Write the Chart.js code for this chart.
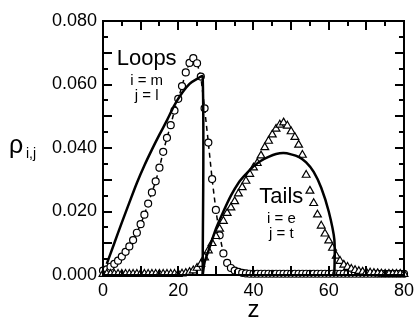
<!DOCTYPE html>
<html>
<head>
<meta charset="utf-8">
<script src="https://cdn.jsdelivr.net/npm/chart.js@4.4.0/dist/chart.umd.min.js"></script>
<style>
html, body { margin: 0; padding: 0; background: #fff; }
</style>
</head>
<body>
<canvas id="chart" width="419" height="322"></canvas>
<script>
// open circles: loops (i = m, j = l)
var loopsZ = [0,1,2,3,4,5,6,7,8,9,10,11,12,13,14,15,16,17,18,19,20,21,22,23,24,25,26,27,28,29,30,
    31,32,33,34,35,36,37,38,39,40,41,42,43,44,45,46,47,48,49,50,51,52,53,54,55,56,57,58,59,60,
    61,62,63,64,65,66,67,68,69,70,71,72,73,74,75,76,77,78,79,80];
var loopsRho = [0.0014,0.0018,0.0026,0.0035,0.0045,0.0058,0.0073,0.0090,0.0110,0.0133,0.0160,
    0.0190,0.0225,0.0260,0.0295,0.0338,0.0388,0.0432,0.0472,0.0518,0.0555,0.0595,0.0638,0.0668,
    0.0683,0.0667,0.0625,0.0525,0.0417,0.0302,0.0205,0.0125,0.0068,0.0038,0.0022,0.0014,0.0010,
    0.0007,0.0005,0.0004,0.0004,0.0004,0.0004,0.0004,0.0004,0.0004,0.0004,0.0004,0.0004,0.0004,
    0.0004,0.0004,0.0004,0.0004,0.0004,0.0004,0.0004,0.0004,0.0004,0.0004,0.0004,0.0004,0.0004,
    0.0004,0.0004,0.0004,0.0004,0.0004,0.0004,0.0004,0.0004,0.0004,0.0004,0.0004,0.0004,0.0004,
    0.0004,0.0004,0.0004,0.0004,0.0004];

// open triangles: tails (i = e, j = t)
var tailsZ = [0,1,2,3,4,5,6,7,8,9,10,11,12,13,14,15,16,17,18,19,20,21,22,23,24,25,26,27,28,29,30,
    31,32,33,34,35,36,37,38,39,40,41,42,43,44,45,46,47,48,49,50,51,52,53,54,55,56,57,58,59,60,
    61,62,63,64,65,66,67,68,69,70,71,72,73,74,75,76,77,78,79,80];
var tailsRho = [0.0003,0.0003,0.0003,0.0003,0.0003,0.0003,0.0003,0.0003,0.0003,0.0003,0.0003,
    0.0003,0.0003,0.0003,0.0003,0.0003,0.0003,0.0003,0.0003,0.0003,0.0003,0.0004,0.0006,0.0009,
    0.0014,0.0022,0.0034,0.0055,0.0077,0.0100,0.0122,0.0145,0.0170,0.0195,0.0212,0.0232,0.0256,
    0.0276,0.0296,0.0318,0.0338,0.0352,0.0376,0.0402,0.0422,0.0442,0.0460,0.0473,0.0480,0.0470,
    0.0452,0.0434,0.0410,0.0378,0.0315,0.0265,0.0226,0.0190,0.0155,0.0130,0.0108,0.0085,0.0060,
    0.0044,0.0032,0.0025,0.0019,0.0015,0.0012,0.0010,0.0008,0.0007,0.0006,0.0005,0.0004,0.0003,
    0.0003,0.0003,0.0003,0.0003,0.0003];

// solid curves
var loopsFitZ = [1,3,5,7,9,11,13,15,17,19,21,23,25,26.5,26.5];
var loopsFitRho = [0.0035,0.0100,0.0165,0.0228,0.0290,0.0345,0.0395,0.0442,0.0487,0.0535,0.0573,
    0.0602,0.0618,0.0625,0];

var tailsFitZ = [26.5,27,28,30,32,34,36,38,40,42,44,46,48,50,52,54,56,58,60,61.5,61.5];
var tailsFitRho = [0,0.0040,0.0075,0.0145,0.0200,0.0250,0.0290,0.0318,0.0342,0.0360,0.0372,
    0.0381,0.0384,0.0380,0.0372,0.0355,0.0325,0.0275,0.0200,0.0110,0];

var xLabels = [0, 20, 40, 60, 80];
var yLabels = [0, 0.02, 0.04, 0.06, 0.08];

var notes = [
    { text: 'Loops', z: 11.6, rho: 0.0661, size: 22 },
    { text: 'i = m', z: 11.6, rho: 0.0598, size: 15 },
    { text: 'j = l', z: 11.6, rho: 0.0551, size: 15 },
    { text: 'Tails', z: 47.4, rho: 0.0227, size: 22 },
    { text: 'i = e', z: 47.4, rho: 0.0164, size: 15 },
    { text: 'j = t', z: 47.4, rho: 0.0117, size: 15 }
];

var FONT = '"Liberation Sans", Arial, sans-serif';

function points(xs, ys)
{
    var out = [];
    for (var i = 0; i < xs.length; i++) {
        out.push({ x: xs[i], y: ys[i] });
    }
    return out;
}

function isMultiple(v, step)
{
    var r = v / step;
    return Math.abs(r - Math.round(r)) < 1e-6;
}

function hasLabel(v, list)
{
    for (var i = 0; i < list.length; i++) {
        if (Math.abs(v - list[i]) < 1e-9) return true;
    }
    return false;
}

// frame, inward ticks on all four sides, free text
var decorations = {
    id: 'decorations',
    afterDraw: function(chart) {
        var ctx = chart.ctx;
        var a = chart.chartArea;
        var xs = chart.scales.x;
        var ys = chart.scales.y;

        ctx.save();
        ctx.strokeStyle = '#000';
        ctx.lineWidth = 2;
        ctx.strokeRect(a.left, a.top, a.right - a.left, a.bottom - a.top);

        ctx.beginPath();
        ys.ticks.forEach(function(t) {
            var p = Math.round(ys.getPixelForValue(t.value));
            var len = isMultiple(t.value, 0.01) ? 9 : 5;
            ctx.moveTo(a.left, p); ctx.lineTo(a.left + len, p);
            ctx.moveTo(a.right, p); ctx.lineTo(a.right - len, p);
        });
        xs.ticks.forEach(function(t) {
            var p = Math.round(xs.getPixelForValue(t.value));
            var len = isMultiple(t.value, 10) ? 9 : 5;
            ctx.moveTo(p, a.bottom); ctx.lineTo(p, a.bottom - len);
            ctx.moveTo(p, a.top); ctx.lineTo(p, a.top + len);
        });
        ctx.stroke();

        ctx.fillStyle = '#000';
        ctx.textAlign = 'center';
        ctx.textBaseline = 'alphabetic';
        notes.forEach(function(n) {
            ctx.font = n.size + 'px ' + FONT;
            ctx.fillText(n.text, xs.getPixelForValue(n.z), ys.getPixelForValue(n.rho));
        });

        // y axis title, written horizontally
        ctx.textAlign = 'left';
        ctx.font = '25px ' + FONT;
        ctx.fillText('ρ', 9, 153);
        ctx.font = '14px ' + FONT;
        ctx.fillText('i,j', 26, 158);
        ctx.restore();
    }
};

var chart = new Chart(document.getElementById('chart'), {
    type: 'line',
    data: {
        datasets: [{
            label: 'Loops fit',
            data: points(loopsFitZ, loopsFitRho),
            borderColor: '#000',
            borderWidth: 2.5,
            pointRadius: 0,
            tension: 0.3,
            clip: false
        }, {
            label: 'Tails fit',
            data: points(tailsFitZ, tailsFitRho),
            borderColor: '#000',
            borderWidth: 2.5,
            pointRadius: 0,
            tension: 0.3,
            clip: false
        }, {
            label: 'Tails',
            data: points(tailsZ, tailsRho),
            showLine: false,
            pointStyle: 'triangle',
            pointRadius: 4.5,
            pointBorderWidth: 1.2,
            pointBorderColor: '#000',
            pointBackgroundColor: '#fff',
            clip: false
        }, {
            label: 'Loops',
            data: points(loopsZ, loopsRho),
            borderColor: '#000',
            borderWidth: 1.5,
            borderDash: [5, 4],
            pointStyle: 'circle',
            pointRadius: 3.5,
            pointBorderWidth: 1.2,
            pointBorderColor: '#000',
            pointBackgroundColor: '#fff',
            clip: false
        }]
    },
    options: {
        responsive: false,
        animation: false,
        devicePixelRatio: 1,
        layout: { padding: { left: 0, right: 12, top: 21, bottom: 0 } },
        plugins: {
            legend: { display: false },
            tooltip: { enabled: false }
        },
        scales: {
            x: {
                type: 'linear',
                min: 0,
                max: 80,
                border: { display: false },
                grid: { display: false, drawTicks: false },
                ticks: {
                    stepSize: 5,
                    autoSkip: false,
                    maxRotation: 0,
                    padding: 5,
                    color: '#000',
                    font: { family: FONT, size: 18 },
                    callback: function(v) { return hasLabel(v, xLabels) ? String(v) : ''; }
                },
                title: {
                    display: true,
                    text: 'z',
                    color: '#000',
                    font: { family: FONT, size: 24, lineHeight: 1 },
                    padding: { top: 0, bottom: 0 }
                },
                afterFit: function(scale) { scale.height = 47; }
            },
            y: {
                type: 'linear',
                min: 0,
                max: 0.08,
                border: { display: false },
                grid: { display: false, drawTicks: false },
                ticks: {
                    stepSize: 0.005,
                    autoSkip: false,
                    padding: 6,
                    color: '#000',
                    font: { family: FONT, size: 18 },
                    callback: function(v) { return hasLabel(v, yLabels) ? v.toFixed(3) : ''; }
                },
                afterFit: function(scale) { scale.width = 103; }
            }
        }
    },
    plugins: [decorations]
});
</script>
</body>
</html>
